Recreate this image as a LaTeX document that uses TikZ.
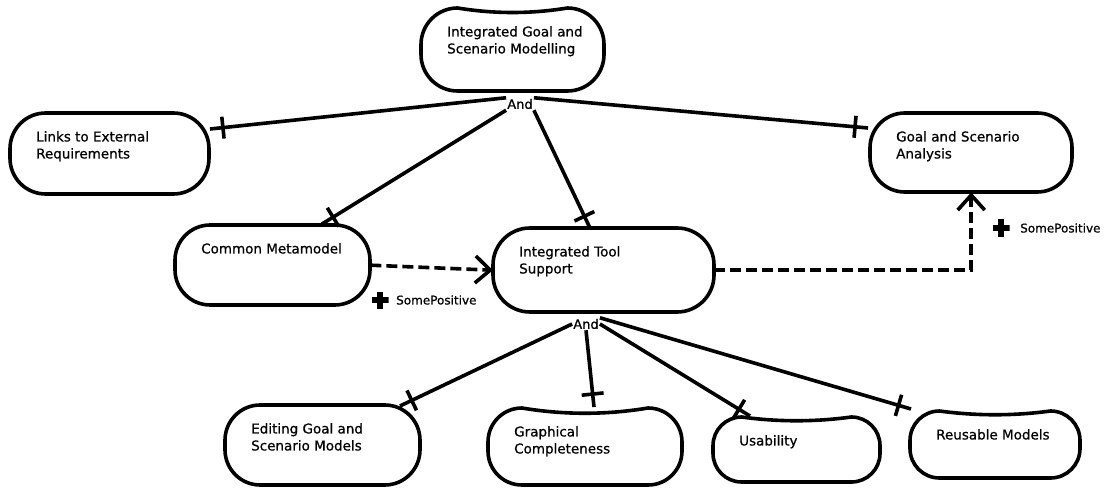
\documentclass[tikz,border=0pt]{standalone}
\usepackage{fontspec}
\newfontfamily\diagfont{DejaVu Sans}[FakeBold=0.7]
\usetikzlibrary{arrows.meta,decorations.markings}

\tikzset{
  soft/.style={draw=none, rectangle, inner sep=0pt},
  outline/.style={line width=3.6pt, line join=round},
  lbl/.style={anchor=north west, inner sep=0pt, align=left,
    font=\diagfont\fontsize{13.5}{17}\selectfont},
  andlbl/.style={inner sep=1pt, font=\diagfont\fontsize{13}{13}\selectfont},
  contrib/.style={line width=3.6pt, postaction=decorate,
    decoration={markings, mark=at position -13pt with
      {\draw[line width=3.6pt] (0,-11pt) -- (0,11pt);}}},
  influence/.style={line width=3.6pt, dash pattern=on 11pt off 5pt,
    -{Straight Barb[length=15pt,width=27pt,line width=3.6pt]}},
  plusmark/.style={minimum size=17pt, inner sep=0pt, path picture={
    \draw[line width=5.5pt]
      (path picture bounding box.north) -- (path picture bounding box.south)
      (path picture bounding box.west) -- (path picture bounding box.east);}},
  poslbl/.style={anchor=west, inner sep=0pt, font=\diagfont\fontsize{12}{12}\selectfont},
}

% softgoal: name, left, top, right, bottom, dip of the top edge, text
\newcommand\softgoal[7]{%
  \pgfmathsetmacro\sgR{0.44*(#5-#3)}%
  \pgfmathsetmacro\sgW{#4-#2}%
  \pgfmathsetmacro\sgH{#5-#3}%
  \node[soft, minimum width=\sgW pt, minimum height=\sgH pt, anchor=north west] (#1) at (#2,#3) {};
  \draw[outline] (#2+\sgR,#3)
    .. controls ({#2+\sgR+(#4-#2-2*\sgR)/3},{#3+#6}) and ({#4-\sgR-(#4-#2-2*\sgR)/3},{#3+#6}) .. (#4-\sgR,#3)
    arc[start angle=-90,end angle=0,radius=\sgR] -- (#4,#5-\sgR)
    arc[start angle=0,end angle=90,radius=\sgR] -- (#2+\sgR,#5)
    arc[start angle=90,end angle=180,radius=\sgR] -- (#2,#3+\sgR)
    arc[start angle=180,end angle=270,radius=\sgR] -- cycle;
  \node[lbl] (#1-text) at (#2+26,#3+18) {#7};
}

\begin{document}
\begin{tikzpicture}[x=1pt,y=-1pt]
\fill[white] (0,0) rectangle (1116,489);
\useasboundingbox (0,0) rectangle (1116,489);

% softgoals
\softgoal{top}{421}{8}{604}{91}{6}{Integrated Goal and\\Scenario Modelling}
\softgoal{links}{10}{113}{209}{194}{0}{Links to External\\Requirements}
\softgoal{gsa}{870}{113}{1072}{192}{0}{Goal and Scenario\\Analysis}
\softgoal{cm}{175}{225}{370}{305}{0}{Common Metamodel}
\softgoal{its}{493}{228}{714}{312}{0}{Integrated Tool\\Support}
\softgoal{edit}{225}{405}{420}{485}{0}{Editing Goal and\\Scenario Models}
\softgoal{graph}{488}{408}{682}{485}{7}{Graphical\\Completeness}
\softgoal{usab}{713}{417}{880}{482}{5}{Usability}
\softgoal{reuse}{910}{411}{1080}{478}{5}{Reusable Models}

% AND decompositions
\node[andlbl] (and1) at (520,104) {And};
\node[andlbl] (and2) at (586,324) {And};

\coordinate (links-in) at (210,129);
\coordinate (gsa-in) at (868,128);
\coordinate (cm-in) at (322,224);
\coordinate (its-in) at (590,228);
\coordinate (edit-in) at (400,406);
\coordinate (graph-in) at (594,407);
\coordinate (usab-in) at (750,416);
\coordinate (reuse-in) at (911,409);

\draw[contrib] (and1.north west) -- (links-in);
\draw[contrib] (and1.north east) -- (gsa-in);
\draw[contrib] (and1.south west) -- (cm-in);
\draw[contrib] (and1.south east) -- (its-in);

\draw[contrib] (and2.west) -- (edit-in);
\draw[contrib] (and2.south) -- (graph-in);
\draw[contrib] (and2.east) -- (usab-in);
\draw[contrib] (and2.north east) -- (reuse-in);

% contributions
\draw[influence] (cm.east) -- (its.west);
\draw[influence] (its.east) -| (gsa.south);

\node[plusmark] (plus1) at (380,300) {};
\node[poslbl] (pos1) at (396,300) {SomePositive};
\node[plusmark] (plus2) at (1001,228) {};
\node[poslbl] (pos2) at (1020,228) {SomePositive};
\end{tikzpicture}
\end{document}
